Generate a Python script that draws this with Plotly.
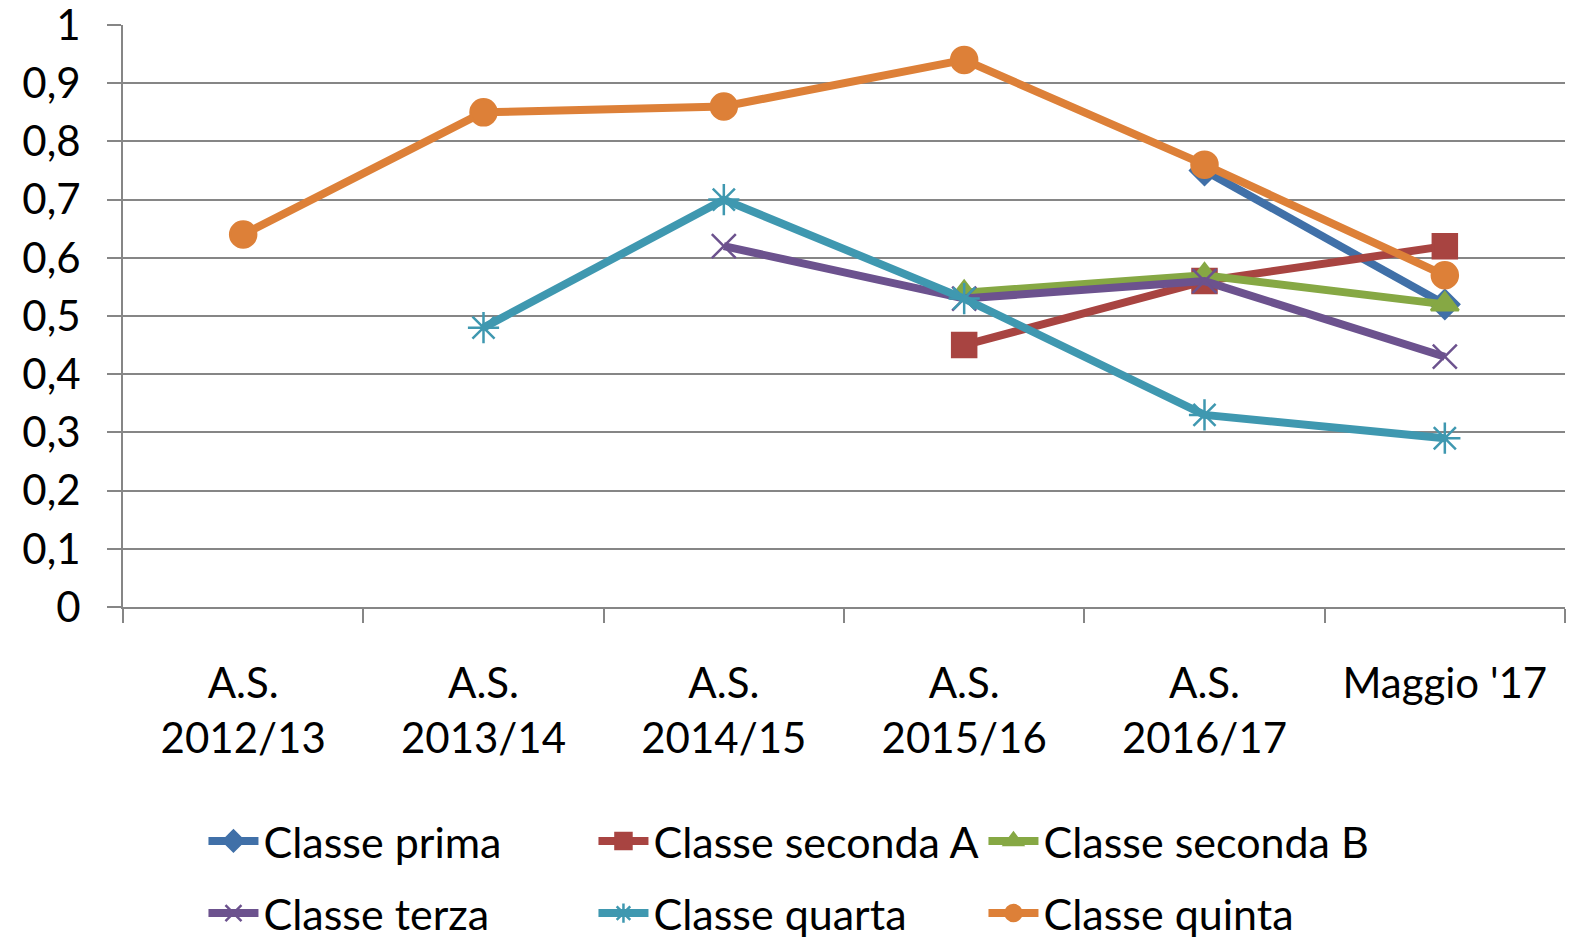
import plotly.graph_objects as go

categories = ["A.S.<br>2012/13", "A.S.<br>2013/14", "A.S.<br>2014/15", "A.S.<br>2015/16", "A.S.<br>2016/17", "Maggio '17"]

series_names = ["Classe prima", "Classe seconda A", "Classe seconda B", "Classe terza", "Classe quarta", "Classe quinta"]
prima = [None, None, None, None, 0.75, 0.52]
seconda_a = [None, None, None, 0.45, 0.56, 0.62]
seconda_b = [None, None, None, 0.54, 0.57, 0.52]
terza = [None, None, 0.62, 0.53, 0.56, 0.43]
quarta = [None, 0.48, 0.70, 0.53, 0.33, 0.29]
quinta = [0.64, 0.85, 0.86, 0.94, 0.76, 0.57]

values = [prima, seconda_a, seconda_b, terza, quarta, quinta]
colors = ["#4070A8", "#A84441", "#86A844", "#6C528E", "#3F98B0", "#DD8038"]
symbols = ["diamond", "square", "triangle-up", "x-thin-open", "asterisk-open", "circle"]
sizes = [22, 24, 24, 24, 26, 26]
legends = ["legend", "legend", "legend", "legend2", "legend2", "legend2"]

FONT = "Lato, 'Open Sans', sans-serif"

fig = go.Figure()
for name, vals, c, s, sz, lg in zip(series_names, values, colors, symbols, sizes, legends):
    fig.add_trace(go.Scatter(
        x=categories, y=vals, name=name, mode="lines+markers",
        line=dict(color=c, width=8),
        marker=dict(symbol=s, size=sz, color=c, line=dict(color=c, width=2.5)),
        connectgaps=False, legend=lg,
    ))

legend_common = dict(
    orientation="h", xanchor="left", yanchor="middle",
    font=dict(family=FONT, size=43, color="#000000"),
    entrywidth=325, entrywidthmode="pixels",
    bgcolor="rgba(0,0,0,0)", itemwidth=50,
)

fig.update_layout(
    width=1569, height=934,
    margin=dict(l=115, r=12, t=17, b=335, autoexpand=False),
    paper_bgcolor="white", plot_bgcolor="white",
    font=dict(family=FONT, size=40, color="#000000"),
    separators=",.",
    showlegend=True,
    legend=dict(x=0.0558, y=-0.402, **legend_common),
    legend2=dict(x=0.0558, y=-0.526, **legend_common),
    xaxis=dict(
        type="category", showgrid=False, showline=True, linecolor="#868686", linewidth=2,
        ticks="outside", tickson="boundaries", ticklen=14, tickcolor="#868686", tickwidth=2,
        tickfont=dict(family=FONT, size=42, color="#000000"),
        ticklabelstandoff=39, range=[-0.5, 5.5], automargin=False,
    ),
    yaxis=dict(
        range=[0, 1], dtick=0.1, tick0=0, showgrid=True, gridcolor="#868686", gridwidth=2,
        showline=True, linecolor="#868686", linewidth=2, zeroline=False,
        ticks="outside", ticklen=14, tickcolor="#868686", tickwidth=2,
        tickfont=dict(family=FONT, size=42, color="#000000"),
        ticklabelstandoff=18, automargin=False, ticklabeloverflow="allow",
    ),
)

fig.write_html("out.html")
